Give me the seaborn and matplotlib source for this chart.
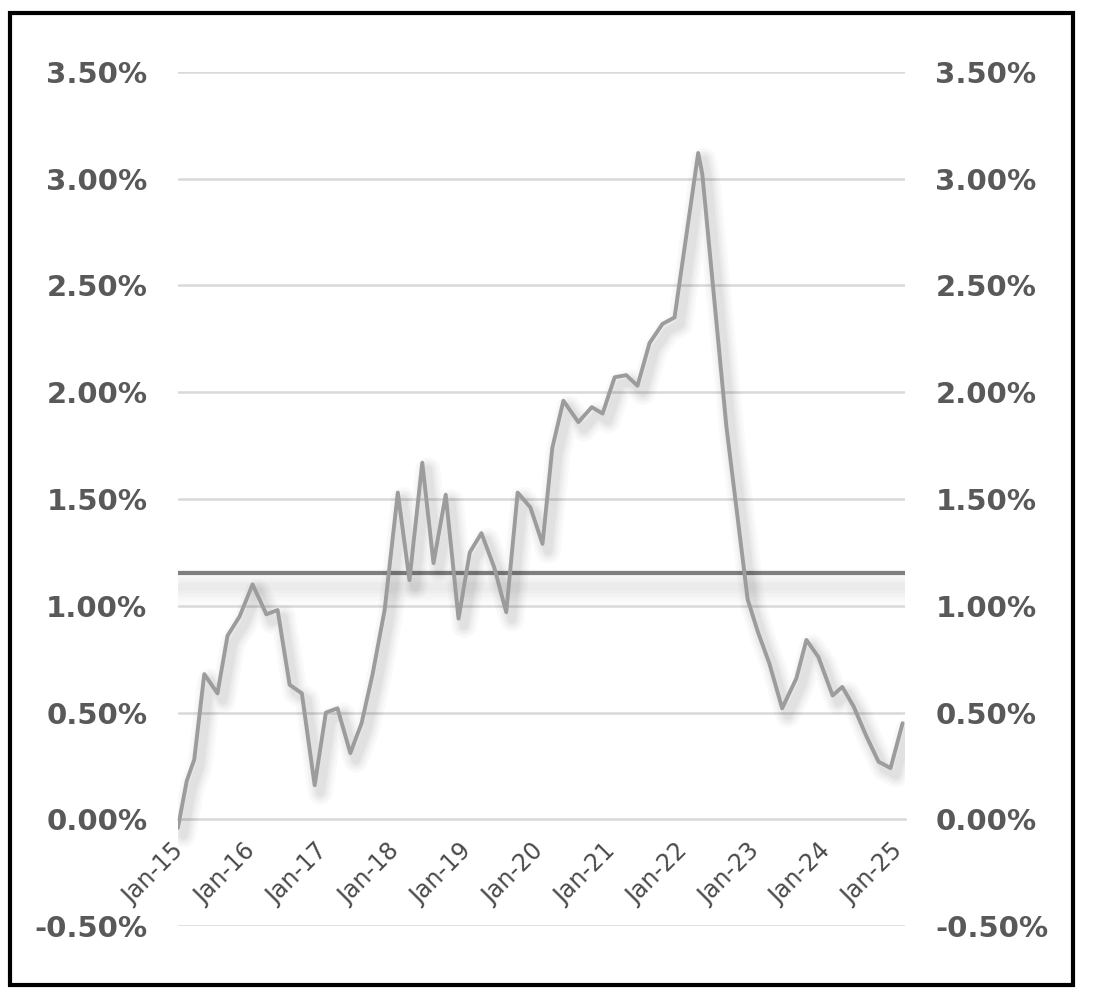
import pandas as pd
import matplotlib.pyplot as plt
import matplotlib.dates as mdates
import matplotlib.patheffects as pe
import matplotlib.transforms as mtrans
from matplotlib.patches import Rectangle
from matplotlib.ticker import FuncFormatter
import seaborn as sns

sns.set_style('white')
plt.rcParams['font.family'] = ['DejaVu Sans']

# values (percent)
dates = ['2015-01-01', '2015-02-15', '2015-03-25', '2015-05-15', '2015-07-21', '2015-09-10',
         '2015-11-10', '2016-01-15', '2016-03-25', '2016-05-21', '2016-07-21', '2016-09-21',
         '2016-11-25', '2017-01-21', '2017-03-21', '2017-05-25', '2017-07-21', '2017-09-15',
         '2017-11-15', '2018-01-21', '2018-03-21', '2018-05-25', '2018-07-21', '2018-09-21',
         '2018-11-25', '2019-01-21', '2019-03-21', '2019-05-25', '2019-07-25', '2019-09-21',
         '2019-11-25', '2020-01-25', '2020-03-15', '2020-05-10', '2020-07-25', '2020-10-01',
         '2020-11-25', '2021-01-25', '2021-03-25', '2021-05-21', '2021-07-21', '2021-09-25',
         '2021-11-25', '2022-03-25', '2022-04-15', '2022-08-15', '2022-12-01', '2023-01-21',
         '2023-03-21', '2023-05-25', '2023-08-05', '2023-09-25', '2023-11-25', '2024-02-05',
         '2024-03-25', '2024-05-21', '2024-07-25', '2024-09-25', '2024-11-25', '2025-01-25']
rate = [-0.04, 0.18, 0.28, 0.68, 0.59, 0.86,
        0.95, 1.10, 0.96, 0.98, 0.63, 0.59,
        0.16, 0.50, 0.52, 0.31, 0.45, 0.68,
        0.98, 1.53, 1.12, 1.67, 1.20, 1.52,
        0.94, 1.25, 1.34, 1.18, 0.97, 1.53,
        1.46, 1.29, 1.74, 1.96, 1.86, 1.93,
        1.90, 2.07, 2.08, 2.03, 2.23, 2.32,
        2.35, 3.12, 3.02, 1.84, 1.03, 0.88,
        0.73, 0.52, 0.66, 0.84, 0.76, 0.58,
        0.62, 0.53, 0.39, 0.27, 0.24, 0.45]
mean_rate = 1.155
yticks = [-0.5, 0.0, 0.5, 1.0, 1.5, 2.0, 2.5, 3.0, 3.5]

df = pd.DataFrame({'Date': pd.to_datetime(dates), 'Rate': rate})

txt = '#595959'
grid = '#d9d9d9'

def soft_shadow(off=(4, -5), a=0.025, widths=(18, 14, 11, 8, 6)):
    # stacked wide shadows fake a blurred drop shadow
    return [pe.SimpleLineShadow(offset=off, shadow_color='k', alpha=a, linewidth=w)
            for w in widths] + [pe.Normal()]

fig = plt.figure(figsize=(10.98, 9.98), dpi=100)
ax = fig.add_axes([0.162, 0.072, 0.662, 0.856])

ax.set_ylim(-0.5, 3.5)
ax.set_xlim(pd.Timestamp('2015-01-01'), pd.Timestamp('2025-02-05'))
ax.set_yticks(yticks)
for y in yticks:
    if y != 0:
        ax.axhline(y, color=grid, lw=1.8, zorder=0)

ax.axhline(mean_rate, color='#7f7f7f', lw=3, zorder=2,
           path_effects=soft_shadow((2, -10), 0.015, (26, 20, 14, 9, 6)))

sns.lineplot(data=df, x='Date', y='Rate', ax=ax, color='#9c9c9c', lw=2.8,
             zorder=3, path_effects=soft_shadow())

for s in ['top', 'left', 'right']:
    ax.spines[s].set_visible(False)
ax.spines['bottom'].set_position(('data', 0))
ax.spines['bottom'].set_color(grid)
ax.spines['bottom'].set_linewidth(1.8)

ax.xaxis.set_major_locator(mdates.YearLocator())
ax.xaxis.set_major_formatter(mdates.DateFormatter('%b-%y'))
ax.tick_params(axis='x', color=grid, length=5, width=2, direction='out', pad=9,
               labelsize=17, labelcolor=txt, labelrotation=45)

pct = FuncFormatter(lambda v, p: f'{v:.2f}%')
ax.yaxis.set_major_formatter(pct)
ax.tick_params(axis='y', length=0, pad=22, labelsize=21, labelcolor=txt)
ax.set_xlabel('')
ax.set_ylabel('')

ax2 = ax.twinx()
ax2.set_ylim(ax.get_ylim())
ax2.set_yticks(yticks)
ax2.yaxis.set_major_formatter(pct)
ax2.tick_params(axis='y', length=0, pad=22, labelsize=21, labelcolor=txt)
for s in ax2.spines.values():
    s.set_visible(False)

fig.canvas.draw()
shift = mtrans.ScaledTranslation(-0.07, 0, fig.dpi_scale_trans)
for lab in ax.get_xticklabels():
    lab.set_ha('right')
    lab.set_va('top')
    lab.set_rotation_mode('anchor')
    lab.set_color('#4a4a4a')
    lab.set_transform(lab.get_transform() + shift)
plt.setp(ax.get_yticklabels() + ax2.get_yticklabels(), fontweight='bold')

fig.patches.append(Rectangle((0.0091, 0.013), 0.9679, 0.974, transform=fig.transFigure,
                             fill=False, edgecolor='black', lw=3, zorder=10))

fig.savefig('out.png', dpi=100, facecolor='white')
